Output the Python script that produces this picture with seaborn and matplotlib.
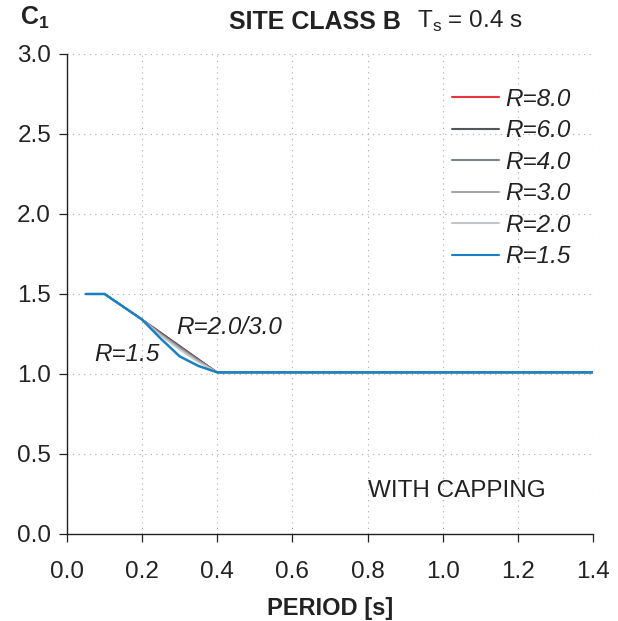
import matplotlib
matplotlib.use("Agg")
import matplotlib.pyplot as plt
import numpy as np
import pandas as pd
import seaborn as sns

# period values [s]
period = [0.05, 0.10, 0.15, 0.20, 0.25, 0.30, 0.35, 0.40, 1.40]

# C1 curves, one per R
c1_r80 = [1.50, 1.50, 1.42, 1.34, 1.258, 1.175, 1.092, 1.01, 1.01]
c1_r60 = [1.50, 1.50, 1.42, 1.34, 1.258, 1.175, 1.092, 1.01, 1.01]
c1_r40 = [1.50, 1.50, 1.42, 1.34, 1.252, 1.168, 1.087, 1.01, 1.01]
c1_r30 = [1.50, 1.50, 1.42, 1.34, 1.246, 1.160, 1.080, 1.01, 1.01]
c1_r20 = [1.50, 1.50, 1.42, 1.34, 1.240, 1.152, 1.074, 1.01, 1.01]
c1_r15 = [1.50, 1.50, 1.42, 1.34, 1.220, 1.110, 1.050, 1.01, 1.01]

labels = ["R=8.0", "R=6.0", "R=4.0", "R=3.0", "R=2.0", "R=1.5"]
colors = ["#e8333a", "#51575a", "#7d848b", "#a2a6aa", "#c3c6c8", "#1a80c4"]
widths = [1.2, 1.2, 1.2, 1.2, 1.2, 1.8]

x_ticks = [0.0, 0.2, 0.4, 0.6, 0.8, 1.0, 1.2, 1.4]
y_ticks = [0.0, 0.5, 1.0, 1.5, 2.0, 2.5, 3.0]

series = [c1_r80, c1_r60, c1_r40, c1_r30, c1_r20, c1_r15]
df = pd.concat(
    [pd.DataFrame({"period": period, "c1": vals, "R": lab}) for lab, vals in zip(labels, series)],
    ignore_index=True,
)

FS = 17.5
INK = "#222222"

sns.set_style("white")
plt.rcParams["font.family"] = ["Liberation Sans", "DejaVu Sans"]
plt.rcParams["mathtext.fontset"] = "custom"
plt.rcParams["mathtext.rm"] = "Liberation Sans"
plt.rcParams["mathtext.bf"] = "Liberation Sans:bold"

fig = plt.figure(figsize=(6.18, 6.21), dpi=100)
ax = fig.add_axes([0.1084, 0.1401, 0.851, 0.773])

sns.lineplot(
    data=df, x="period", y="c1", hue="R", hue_order=labels,
    palette=dict(zip(labels, colors)), estimator=None, sort=False, ax=ax,
)
for line, lw in zip(ax.get_lines(), widths):
    line.set_linewidth(lw)

ax.set_xlim(0, 1.4)
ax.set_ylim(0, 3.0)
ax.set_xticks(x_ticks)
ax.set_yticks(y_ticks)
ax.set_xticklabels([f"{v:.1f}" for v in x_ticks])
ax.set_yticklabels([f"{v:.1f}" for v in y_ticks])
ax.tick_params(axis="both", labelsize=FS, direction="out", length=5.5, width=0.9,
               color=INK, labelcolor=INK, bottom=True, left=True)
ax.tick_params(axis="x", pad=14)
ax.tick_params(axis="y", pad=6)
for side in ["top", "right"]:
    ax.spines[side].set_visible(False)
for side in ["left", "bottom"]:
    ax.spines[side].set_color(INK)
    ax.spines[side].set_linewidth(1.0)
ax.grid(True, linestyle=(0, (1, 4)), color="#aaaaaa", linewidth=0.8)
ax.set_axisbelow(True)

ax.set_xlabel("PERIOD [s]", fontsize=17, fontweight="bold", color=INK, labelpad=10)
ax.set_ylabel("")

handles, labs = ax.get_legend_handles_labels()
leg = ax.legend(handles, labs, loc="upper right", bbox_to_anchor=(0.976, 0.95), frameon=False,
                prop={"size": FS, "style": "italic"}, handlelength=1.95,
                handletextpad=0.25, labelspacing=0.35, borderaxespad=0)
for t in leg.get_texts():
    t.set_color(INK)

ax.text(0.29, 1.29, "R=2.0/3.0", fontsize=FS, style="italic", color=INK, ha="left", va="center")
ax.text(0.072, 1.12, "R=1.5", fontsize=FS, style="italic", color=INK, ha="left", va="center")
ax.text(0.80, 0.27, "WITH CAPPING", fontsize=FS, color=INK, ha="left", va="center")

fig.text(0.032, 0.971, r"C$_\mathbf{1}$", fontsize=18, fontweight="bold", color=INK, ha="left", va="center")
fig.text(0.3706, 0.9646, "SITE CLASS B", fontsize=18, fontweight="bold", color=INK, ha="left", va="center")
fig.text(0.674, 0.966, r"T$_\mathregular{s}$ = 0.4 s", fontsize=FS, color=INK, ha="left", va="center")

fig.savefig("out.png", dpi=100)
